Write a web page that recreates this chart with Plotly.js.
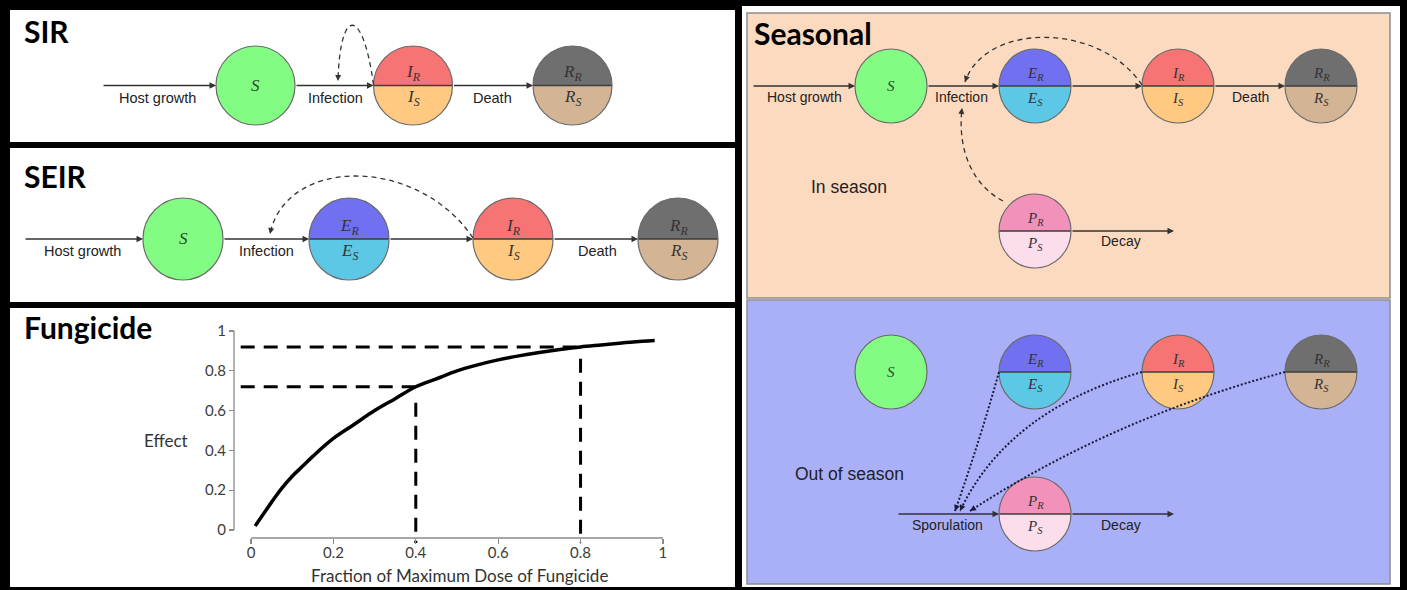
<!DOCTYPE html>
<html><head><meta charset="utf-8">
<script src="https://cdn.plot.ly/plotly-3.0.1.min.js"></script>
<style>html,body{margin:0;padding:0;background:#000;}</style>
</head><body>
<div id="chart" style="width:1407px;height:590px;"></div>
<script>
// ---------------- Data: fungicide dose-response ----------------
const doseFraction = [0.01, 0.03, 0.05, 0.075, 0.1, 0.125, 0.15, 0.2, 0.25, 0.3, 0.35, 0.4, 0.45, 0.5, 0.55, 0.6, 0.65, 0.7, 0.75, 0.8, 0.85, 0.9, 0.95, 0.98];
const effectValue  = [0.02, 0.08, 0.14, 0.21, 0.27, 0.32, 0.37, 0.46, 0.53, 0.60, 0.66, 0.72, 0.76, 0.80, 0.83, 0.855, 0.875, 0.892, 0.907, 0.92, 0.93, 0.94, 0.948, 0.952];
const markedDoses = [0.4, 0.8];
const markedEffects = [0.72, 0.92];
const guideStartDose = -0.025;
const guideTopEffect = [0.64, 0.86];
const guideBottomEffect = -0.065;
const axisTickVals = [0, 0.2, 0.4, 0.6, 0.8, 1];
const axisTickText = ['0', '0.2', '0.4', '0.6', '0.8', '1'];
const xAxisTitle = 'Fraction of Maximum Dose of Fungicide';
const yAxisTitle = 'Effect';

// ---------------- Diagram content ----------------
const panelTitles = ['SIR', 'SEIR', 'Fungicide', 'Seasonal'];
const sirCompartments = ['S', 'I', 'R'];
const seirCompartments = ['S', 'E', 'I', 'R'];
const seasonalCompartments = ['S', 'E', 'I', 'R'];
const flowLabels = ['Host growth', 'Infection', 'Death'];
const seasonLabels = ['In season', 'Out of season'];
const sporeFlowLabels = ['Sporulation', 'Decay'];
const compartmentColors = {
  S: ['#82FC82', '#82FC82'],
  E: ['#7070F0', '#5CC8E6'],
  I: ['#F77474', '#FFC981'],
  R: ['#6F6F6F', '#D3B596'],
  P: ['#F292BB', '#FBDDEB']
};

// ---------------- Helpers (pixel -> paper) ----------------
const W = 1407, H = 590;
const X = px => px / W;
const Y = py => 1 - py / H;
const shapes = [];
const annotations = [];
const INK = '#333333';

function rect(x0, y0, x1, y1, fill, line, layer) {
  shapes.push({type: 'rect', xref: 'paper', yref: 'paper', x0: X(x0), x1: X(x1), y0: Y(y1), y1: Y(y0),
    fillcolor: fill, line: line || {width: 0}, layer: layer || 'below'});
}
function text(str, x, y, size, opts) {
  opts = opts || {};
  annotations.push({xref: 'paper', yref: 'paper', x: X(x), y: Y(y), text: str, showarrow: false,
    xanchor: opts.xanchor || 'center', yanchor: 'middle',
    font: {family: opts.family || 'Liberation Sans, Arial, sans-serif', size: size, color: opts.color || '#222', weight: opts.weight || 400}});
}
function arrow(x1, y1, x2, y2, opts) {
  opts = opts || {};
  annotations.push({xref: 'paper', yref: 'paper', x: X(x2), y: Y(y2), ax: x1 - x2, ay: y1 - y2,
    axref: 'pixel', ayref: 'pixel', text: '', showarrow: true, arrowhead: 2, arrowsize: opts.size || 1,
    arrowwidth: opts.width || 1.3, arrowcolor: opts.color || INK, standoff: 0, startstandoff: 0});
}
function hline(x1, x2, y, color, width) {
  shapes.push({type: 'line', xref: 'paper', yref: 'paper', x0: X(x1), x1: X(x2), y0: Y(y), y1: Y(y),
    line: {color: color || INK, width: width || 1.3}, layer: 'above'});
}
function headAt(xe, ye, xc, yc, len, color) {
  const dx = xe - xc, dy = ye - yc, d = Math.hypot(dx, dy);
  arrow(xe - dx / d * len, ye - dy / d * len, xe, ye, {color: color, width: 1.2});
}
function curve(pts, dash, color, width) {
  const p = a => X(a[0]) + ',' + Y(a[1]);
  let path;
  if (pts.length === 4) path = 'M' + p(pts[0]) + ' C' + p(pts[1]) + ' ' + p(pts[2]) + ' ' + p(pts[3]);
  else path = 'M' + p(pts[0]) + ' Q' + p(pts[1]) + ' ' + p(pts[2]);
  shapes.push({type: 'path', xref: 'paper', yref: 'paper', path: path, fillcolor: 'rgba(0,0,0,0)',
    line: {color: color, width: width, dash: dash}, layer: 'above'});
  const e = pts[pts.length - 1], c = pts[pts.length - 2];
  headAt(e[0], e[1], c[0], c[1], 7, color);
}
function node(letter, cx, cy, rx, ry, fs) {
  const cols = compartmentColors[letter];
  const k = 0.5523;
  shapes.push({type: 'circle', xref: 'paper', yref: 'paper', x0: X(cx - rx), x1: X(cx + rx), y0: Y(cy + ry), y1: Y(cy - ry),
    fillcolor: cols[1], line: {width: 0}, layer: 'above'});
  const serif = 'Liberation Serif, Times New Roman, serif';
  if (letter !== 'S') {
    const p = (a, b) => X(a) + ',' + Y(b);
    const path = 'M' + p(cx - rx, cy) + ' C' + p(cx - rx, cy - k * ry) + ' ' + p(cx - k * rx, cy - ry) + ' ' + p(cx, cy - ry) +
      ' C' + p(cx + k * rx, cy - ry) + ' ' + p(cx + rx, cy - k * ry) + ' ' + p(cx + rx, cy) + ' Z';
    shapes.push({type: 'path', xref: 'paper', yref: 'paper', path: path, fillcolor: cols[0], line: {width: 0}, layer: 'above'});
    hline(cx - rx, cx + rx, cy, '#3d3d3d', 1.3);
    text('<i>' + letter + '</i><sub><i>R</i></sub>', cx, cy - 12, fs, {family: serif, color: '#333'});
    text('<i>' + letter + '</i><sub><i>S</i></sub>', cx, cy + 13, fs, {family: serif, color: '#333'});
  } else {
    text('<i>S</i>', cx, cy, fs, {family: serif, color: '#2d4a2d'});
  }
  shapes.push({type: 'circle', xref: 'paper', yref: 'paper', x0: X(cx - rx), x1: X(cx + rx), y0: Y(cy + ry), y1: Y(cy - ry),
    fillcolor: 'rgba(0,0,0,0)', line: {color: '#6b6b6b', width: 1.2}, layer: 'above'});
}

// ---------------- Panels ----------------
rect(10, 10, 735, 142, '#ffffff');
rect(10, 148, 735, 302, '#ffffff');
rect(10, 308, 735, 587, '#ffffff');
rect(742, 6, 1400, 587, '#ffffff');
rect(747, 13, 1390, 298, '#FCDAC0', {color: '#8d8d8d', width: 1.5});
rect(747, 300, 1390, 584, '#A9B0F8', {color: '#8d8d8d', width: 1.5});

const titleFont = {family: 'Lato, Carlito, sans-serif', color: '#000', weight: 700, xanchor: 'left'};
text(panelTitles[0], 22, 31, 30, titleFont);
text(panelTitles[1], 22, 176, 30, titleFont);
text(panelTitles[2], 22, 327, 30, titleFont);
text(panelTitles[3], 752, 33, 30, titleFont);

// ---------------- SIR ----------------
(function () {
  const cy = 85.5, r = 39.5, xs = [255.5, 413, 572.5];
  arrow(102, cy, xs[0] - r, cy);
  arrow(xs[0] + r, cy, xs[1] - r, cy);
  arrow(xs[1] + r, cy, xs[2] - r, cy);
  sirCompartments.forEach((c, i) => node(c, xs[i], cy, r, r, 17));
  text(flowLabels[0], 157, 98, 14.5);
  text(flowLabels[1], 335, 98, 14.5);
  text(flowLabels[2], 492, 98, 14.5);
  curve([[373.5, 85], [363, 6], [340, 6], [338, 81]], '5px,4px', INK, 1.3);
})();

// ---------------- SEIR ----------------
(function () {
  const cy = 239, rx = 40, ry = 41, xs = [183, 349, 513, 678];
  arrow(24, cy, xs[0] - rx, cy);
  arrow(xs[0] + rx, cy, xs[1] - rx, cy);
  arrow(xs[1] + rx, cy, xs[2] - rx, cy);
  arrow(xs[2] + rx, cy, xs[3] - rx, cy);
  seirCompartments.forEach((c, i) => node(c, xs[i], cy, rx, ry, 17));
  text(flowLabels[0], 82, 251, 14.5);
  text(flowLabels[1], 266, 251, 14.5);
  text(flowLabels[2], 597, 251, 14.5);
  curve([[473, 238], [418, 156], [286, 156], [270, 234]], '5px,4px', INK, 1.3);
})();

// ---------------- Seasonal: in season ----------------
(function () {
  const cy = 86, rx = 36, ry = 37, xs = [891, 1035, 1178, 1321];
  arrow(752, cy, xs[0] - rx, cy);
  arrow(xs[0] + rx, cy, xs[1] - rx, cy);
  arrow(xs[1] + rx, cy, xs[2] - rx, cy);
  arrow(xs[2] + rx, cy, xs[3] - rx, cy);
  seasonalCompartments.forEach((c, i) => node(c, xs[i], cy, rx, ry, 15));
  text(flowLabels[0], 804, 97, 14);
  text(flowLabels[1], 962, 97, 14);
  text(flowLabels[2], 1250, 97, 14);
  const py = 231;
  arrow(xs[1] + rx, py, 1174, py);
  node('P', xs[1], py, rx, ry, 15);
  text(sporeFlowLabels[1], 1121, 241, 14);
  text(seasonLabels[0], 849, 187, 17.5);
  curve([[xs[2] - rx, 85], [1100, 22], [985, 22], [965, 82]], '5px,4px', INK, 1.3);
  curve([[1003, 201], [974, 186], [957, 152], [962, 108]], '5px,4px', INK, 1.3);
})();

// ---------------- Seasonal: out of season ----------------
(function () {
  const cy = 372, rx = 36, ry = 37, xs = [891, 1035, 1178, 1321];
  seasonalCompartments.forEach((c, i) => node(c, xs[i], cy, rx, ry, 15));
  const py = 514;
  arrow(897, py, xs[1] - rx, py);
  arrow(xs[1] + rx, py, 1174, py);
  node('P', xs[1], py, rx, ry, 15);
  text(sporeFlowLabels[0], 947, 525, 14);
  text(sporeFlowLabels[1], 1121, 525, 14);
  text(seasonLabels[1], 849, 474, 17.5);
  const dotCol = '#1c1c3c';
  curve([[xs[1] - rx, cy], [980, 440], [955, 511]], '2px,2px', dotCol, 2);
  curve([[xs[2] - rx, cy], [1008, 410], [960, 511]], '2px,2px', dotCol, 2);
  curve([[xs[3] - rx, cy], [1111, 419], [970, 511]], '2px,2px', dotCol, 2);
})();

// ---------------- Fungicide chart ----------------
const axisFont = {family: 'Lato, Carlito, sans-serif', size: 15, color: '#3c3c3c'};
const traces = [
  {x: doseFraction, y: effectValue, type: 'scatter', mode: 'lines', line: {color: '#000', width: 3.5, shape: 'spline', smoothing: 1}, hoverinfo: 'skip'}
];
markedDoses.forEach((d, i) => {
  traces.push({x: [guideStartDose, d], y: [markedEffects[i], markedEffects[i]], type: 'scatter', mode: 'lines',
    line: {color: '#000', width: 3, dash: '14px,9px'}, hoverinfo: 'skip'});
  traces.push({x: [d, d], y: [guideTopEffect[i], guideBottomEffect], type: 'scatter', mode: 'lines',
    line: {color: '#000', width: 3, dash: '14px,9px'}, hoverinfo: 'skip'});
});
shapes.push({type: 'line', xref: 'x', yref: 'paper', x0: axisTickVals[0], x1: axisTickVals[axisTickVals.length - 1], y0: Y(538), y1: Y(538), line: {color: '#8a8a8a', width: 1.3}, layer: 'below'});
shapes.push({type: 'line', xref: 'paper', yref: 'y', x0: X(234), x1: X(234), y0: axisTickVals[0], y1: axisTickVals[axisTickVals.length - 1], line: {color: '#8a8a8a', width: 1.3}, layer: 'below'});
annotations.push({xref: 'paper', yref: 'paper', x: X(166), y: Y(440), text: yAxisTitle, showarrow: false, xanchor: 'center', yanchor: 'middle', font: {family: 'Lato, Carlito, sans-serif', size: 17, color: '#333'}});
annotations.push({xref: 'paper', yref: 'paper', x: X(459), y: Y(575), text: xAxisTitle, showarrow: false, xanchor: 'center', yanchor: 'middle', font: {family: 'Lato, Carlito, sans-serif', size: 17, color: '#333'}});

const layout = {
  width: W, height: H, margin: {l: 0, r: 0, t: 0, b: 0},
  paper_bgcolor: '#000', plot_bgcolor: 'rgba(0,0,0,0)', showlegend: false,
  xaxis: {domain: [X(234), X(665)], range: [-0.0413, 1.005], anchor: 'free', position: Y(538),
    showline: false, showgrid: false, zeroline: false, ticks: 'outside', ticklen: 5, tickwidth: 1.3, tickcolor: '#8a8a8a',
    ticklabelstandoff: -4, automargin: false,
    tickvals: axisTickVals, ticktext: axisTickText, tickfont: axisFont, fixedrange: true},
  yaxis: {domain: [Y(552), Y(329)], range: [-0.1106, 1.0101], anchor: 'free', position: X(234),
    showline: false, showgrid: false, zeroline: false, ticks: 'outside', ticklen: 5, tickwidth: 1.3, tickcolor: '#8a8a8a',
    automargin: false,
    tickvals: axisTickVals, ticktext: axisTickText, tickfont: axisFont, fixedrange: true},
  shapes: shapes, annotations: annotations
};
Plotly.newPlot('chart', traces, layout, {displayModeBar: false, staticPlot: true});
</script>
</body></html>
